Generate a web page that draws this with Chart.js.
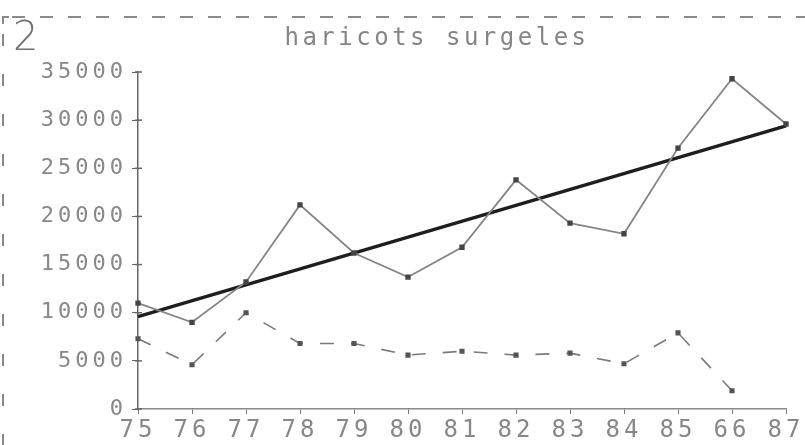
<!DOCTYPE html>
<html>
<head>
<meta charset="utf-8">
<script src="https://cdn.jsdelivr.net/npm/chart.js@4"></script>
<style>
  html, body { margin: 0; padding: 0; background: #fff; }
  #wrap { width: 805px; height: 445px; position: relative; }
</style>
</head>
<body>
<div id="wrap"><canvas id="graph"></canvas></div>
<script>
// annees (etiquettes telles qu'imprimees)
const annees = ["75", "76", "77", "78", "79", "80", "81", "82", "83", "84", "85", "66", "87"]
// production de haricots surgeles
const production = [11000, 9000, 13200, 21200, 16200, 13700, 16800, 23800, 19300, 18200, 27100, 34300, 29600]
// droite de tendance : seulement les deux extremites
const tendance = [9600, null, null, null, null, null, null, null, null, null, null, null, 29400]
// deuxieme serie (pointilles)
const autre = [7300, 4600, 10000, 6800, 6800, 5600, 6000, 5600, 5800, 4700, 7900, 1900, null]
// graduations de l'axe vertical
const yTicks = [0, 5000, 10000, 15000, 20000, 25000, 30000, 35000]

const titre = "haricots surgeles"
const numero = "2"

const mono = "'DejaVu Sans Mono', monospace"

// cadre en tirets, numero de page et titre
const decor = {
  id: "decor",
  beforeDraw(chart) {
    chart.ctx.letterSpacing = "4px"
  },
  afterDraw(chart) {
    const ctx = chart.ctx
    const y = chart.scales.y
    const left = chart.chartArea.left
    ctx.save()
    // petits traits de graduation qui traversent l'axe vertical
    ctx.strokeStyle = "#666"
    ctx.lineWidth = 1.5
    yTicks.forEach(v => {
      const py = y.getPixelForValue(v)
      ctx.beginPath()
      ctx.moveTo(left - 3, py)
      ctx.lineTo(left + 4, py)
      ctx.stroke()
    })

    ctx.strokeStyle = "#8a8a8a"
    ctx.lineWidth = 2
    ctx.setLineDash([13, 15])
    ctx.beginPath()
    ctx.moveTo(12, 17)
    ctx.lineTo(805, 17)
    ctx.stroke()
    ctx.setLineDash([12, 28])
    ctx.beginPath()
    ctx.moveTo(3, 34)
    ctx.lineTo(3, 445)
    ctx.stroke()
    ctx.setLineDash([])
    ctx.beginPath()
    ctx.moveTo(3, 24)
    ctx.lineTo(3, 17)
    ctx.lineTo(9, 17)
    ctx.stroke()

    ctx.fillStyle = "#707070"
    ctx.letterSpacing = "0px"
    ctx.font = "300 40px 'DejaVu Sans'"
    ctx.textAlign = "left"
    ctx.textBaseline = "alphabetic"
    ctx.fillText(numero, 13, 50)

    ctx.letterSpacing = "3.5px"
    ctx.fillStyle = "#858585"
    ctx.font = "24px " + mono
    ctx.textAlign = "center"
    ctx.fillText(titre, 437, 45)
    ctx.restore()
  }
}

new Chart(document.getElementById("graph"), {
  type: "line",
  data: {
    labels: annees,
    datasets: [
      {
        data: production,
        borderColor: "#858585",
        borderWidth: 1.8,
        pointStyle: "rect",
        pointRadius: 2.5,
        pointBackgroundColor: "#444",
        pointBorderColor: "#444",
        tension: 0
      },
      {
        data: tendance,
        borderColor: "#1e1e1e",
        borderWidth: 3.5,
        pointRadius: 0,
        spanGaps: true,
        tension: 0
      },
      {
        data: autre,
        borderColor: "#7a7a7a",
        borderWidth: 1.6,
        borderDash: [14, 17],
        pointStyle: "rect",
        pointRadius: 2.5,
        pointBackgroundColor: "#555",
        pointBorderColor: "#555",
        tension: 0
      }
    ]
  },
  options: {
    responsive: true,
    maintainAspectRatio: false,
    animation: false,
    layout: { padding: { left: 0, right: 19, top: 72, bottom: 0 } },
    plugins: {
      legend: { display: false },
      tooltip: { enabled: false }
    },
    scales: {
      x: {
        offset: false,
        afterFit(scale) { scale.height = 36 },
        border: { display: true, color: "#8a8a8a", width: 1.5, dash: [10, 4] },
        grid: { drawOnChartArea: false, tickLength: 5, color: "#777" },
        ticks: {
          padding: 2,
          maxRotation: 0,
          autoSkip: false,
          color: "#888",
          font: { family: mono, size: 24 }
        }
      },
      y: {
        min: 0,
        max: 35000,
        afterFit(scale) { scale.width = 138 },
        afterBuildTicks(scale) { scale.ticks = yTicks.map(v => ({ value: v })) },
        border: { display: true, color: "#666", width: 1.5 },
        grid: { drawOnChartArea: false, tickLength: 6, color: "#666" },
        ticks: {
          padding: 5,
          color: "#888",
          font: { family: mono, size: 22 },
          callback: v => String(v)
        }
      }
    }
  },
  plugins: [decor]
})
</script>
</body>
</html>
